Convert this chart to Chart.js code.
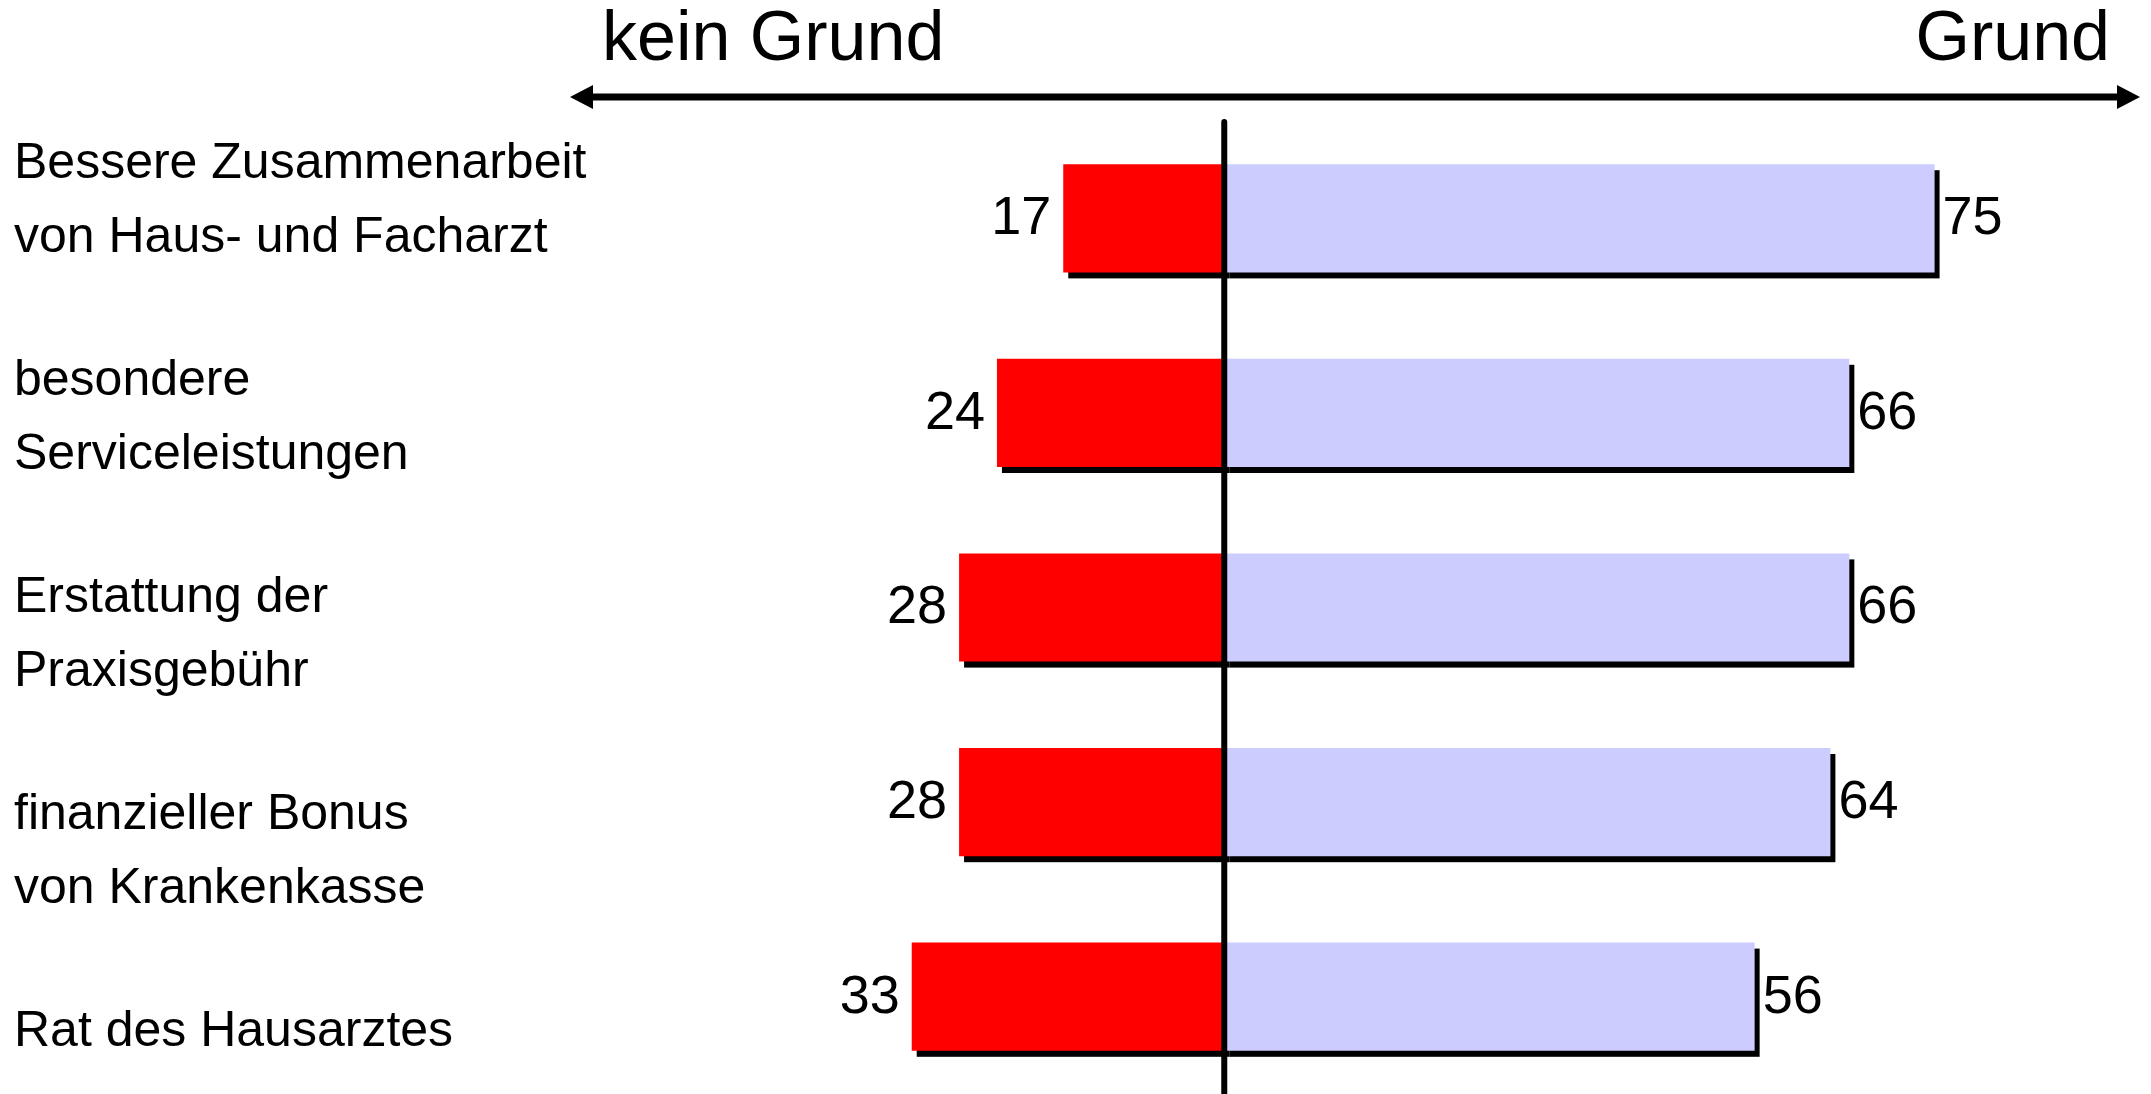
<!DOCTYPE html>
<html lang="de">
<head>
<meta charset="utf-8">
<title>Gründe</title>
<script src="https://cdn.jsdelivr.net/npm/chart.js@4.4.1/dist/chart.umd.min.js"></script>
<style>
    html, body { margin: 0; padding: 0; background: #fff; }
    #wrap { width: 2151px; height: 1094px; position: relative; }
</style>
</head>
<body>
<div id="wrap"><canvas id="reasonsChart"></canvas></div>
<script>
const categories = [
    ['Bessere Zusammenarbeit', 'von Haus- und Facharzt'],
    ['besondere', 'Serviceleistungen'],
    ['Erstattung der', 'Praxisgebühr'],
    ['finanzieller Bonus', 'von Krankenkasse'],
    ['Rat des Hausarztes']
];
const keinGrund = [17, 24, 28, 28, 33];
const grund = [75, 66, 66, 64, 56];

const FONT = '"Liberation Sans", Arial, Helvetica, sans-serif';

// black drop shadow under each bar
const shadowPlugin = {
    id: 'shadow',
    beforeDatasetsDraw(chart) {
        const ctx = chart.ctx;
        ctx.save();
        ctx.fillStyle = '#000';
        chart.data.datasets.forEach((ds, i) => {
            chart.getDatasetMeta(i).data.forEach(bar => {
                const p = bar.getProps(['x', 'y', 'base', 'height'], true);
                const left = Math.min(p.x, p.base);
                const w = Math.abs(p.x - p.base);
                ctx.fillRect(left + 5, p.y - p.height / 2 + 6, w, p.height);
            });
        });
        ctx.restore();
    }
};

// axis line, value labels, category labels and header arrow
const decorPlugin = {
    id: 'decor',
    afterDatasetsDraw(chart) {
        const ctx = chart.ctx;
        const x0 = chart.scales.x.getPixelForValue(0);
        ctx.save();

        // vertical zero line
        ctx.strokeStyle = '#000';
        ctx.lineWidth = 6;
        ctx.lineCap = 'round';
        ctx.beginPath();
        ctx.moveTo(x0, 122);
        ctx.lineTo(x0, chart.height + 5);
        ctx.stroke();

        // values
        ctx.fillStyle = '#000';
        ctx.font = '54px ' + FONT;
        ctx.textBaseline = 'middle';
        chart.getDatasetMeta(0).data.forEach((bar, i) => {
            ctx.textAlign = 'right';
            ctx.fillText(String(keinGrund[i]), bar.x - 12, bar.y + 1);
        });
        chart.getDatasetMeta(1).data.forEach((bar, i) => {
            ctx.textAlign = 'left';
            ctx.fillText(String(grund[i]), bar.x + 8, bar.y + 1);
        });

        // category labels
        ctx.font = '50px ' + FONT;
        ctx.textAlign = 'left';
        ctx.textBaseline = 'alphabetic';
        categories.forEach((lines, i) => {
            lines.forEach((line, j) => {
                ctx.fillText(line, 14, 178 + i * 217 + j * 74);
            });
        });

        // header
        ctx.font = '70px ' + FONT;
        ctx.textAlign = 'left';
        ctx.fillText('kein Grund', 602, 60);
        ctx.textAlign = 'right';
        ctx.fillText('Grund', 2110, 60);

        const ay = 97, xl = 570, xr = 2140;
        ctx.lineWidth = 7;
        ctx.lineCap = 'butt';
        ctx.beginPath();
        ctx.moveTo(xl + 15, ay);
        ctx.lineTo(xr - 15, ay);
        ctx.stroke();
        ctx.beginPath();
        ctx.moveTo(xl, ay);
        ctx.lineTo(xl + 23, ay - 12);
        ctx.lineTo(xl + 23, ay + 12);
        ctx.closePath();
        ctx.fill();
        ctx.beginPath();
        ctx.moveTo(xr, ay);
        ctx.lineTo(xr - 23, ay - 12);
        ctx.lineTo(xr - 23, ay + 12);
        ctx.closePath();
        ctx.fill();

        ctx.restore();
    }
};

const ctxReasons = document.getElementById('reasonsChart').getContext('2d');
new Chart(ctxReasons, {
    type: 'bar',
    data: {
        labels: categories.map(c => c.join(' ')),
        datasets: [{
            label: 'kein Grund',
            data: keinGrund.map(v => -v),
            backgroundColor: '#FF0000',
            borderWidth: 0
        }, {
            label: 'Grund',
            data: grund,
            backgroundColor: '#CCCCFF',
            borderWidth: 0
        }]
    },
    options: {
        indexAxis: 'y',
        responsive: true,
        maintainAspectRatio: false,
        animation: false,
        layout: {
            padding: { left: 656, right: 27, top: 121, bottom: 0 }
        },
        datasets: {
            bar: { categoryPercentage: 1, barPercentage: 0.556 }
        },
        scales: {
            x: { display: false, stacked: true, min: -60, max: 95 },
            y: { display: false, stacked: true }
        },
        plugins: {
            legend: { display: false },
            tooltip: { enabled: false }
        }
    },
    plugins: [shadowPlugin, decorPlugin]
});
</script>
</body>
</html>
